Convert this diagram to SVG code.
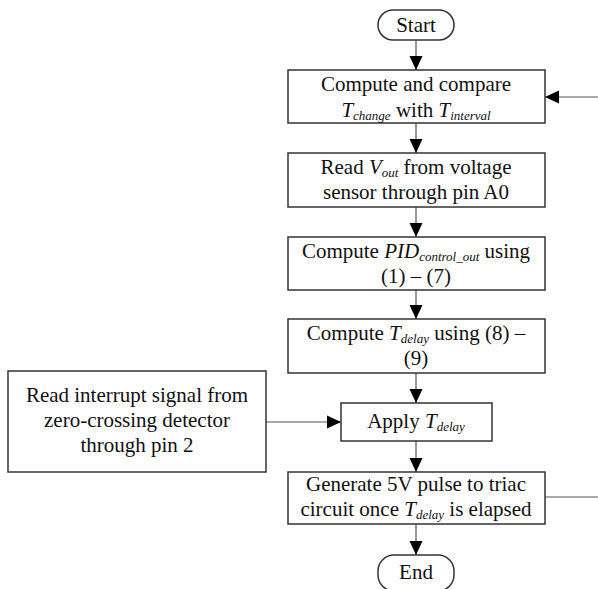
<svg xmlns="http://www.w3.org/2000/svg" width="598" height="589" viewBox="0 0 598 589">
<style>
.box{fill:#fff;stroke:#333;stroke-width:1.5}
.t{font-family:"Liberation Serif","Times New Roman",serif;font-size:21px;fill:#111;text-anchor:middle}
.i{font-style:italic}
.s{font-style:italic;font-size:13px}
.c{fill:none;stroke:#555;stroke-width:1.2}
</style>
<defs>
<marker id="ah" viewBox="0 0 14 14" refX="14" refY="7" markerWidth="14" markerHeight="14" markerUnits="userSpaceOnUse" orient="auto">
<path d="M0,0.5 L14,7 L0,13.5 Z" fill="#000"/>
</marker>
</defs>
<rect width="598" height="589" fill="#fff"/>
<g id="connectors">
<line class="c" x1="416" y1="40" x2="416" y2="70" marker-end="url(#ah)"/>
<line class="c" x1="416" y1="123" x2="416" y2="153" marker-end="url(#ah)"/>
<line class="c" x1="416" y1="207" x2="416" y2="237" marker-end="url(#ah)"/>
<line class="c" x1="416" y1="290" x2="416" y2="319" marker-end="url(#ah)"/>
<line class="c" x1="416" y1="373" x2="416" y2="403" marker-end="url(#ah)"/>
<line class="c" x1="416" y1="441" x2="416" y2="472" marker-end="url(#ah)"/>
<line class="c" x1="416" y1="524" x2="416" y2="555" marker-end="url(#ah)"/>
<line class="c" x1="266" y1="422" x2="341" y2="422" marker-end="url(#ah)"/>
<path class="c" d="M545,497 H605 V97 H545" marker-end="url(#ah)"/>
</g>
<g id="start">
<rect class="box" x="378" y="10" width="76" height="30" rx="15"/>
<text class="t" x="416" y="32">Start</text>
</g>
<g id="compare">
<rect class="box" x="288" y="70" width="257" height="53"/>
<text class="t" x="416" y="91">Compute and compare</text>
<text class="t" x="416" y="117"><tspan class="i">T</tspan><tspan class="s" dy="3">change</tspan><tspan dy="-3"> with </tspan><tspan class="i">T</tspan><tspan class="s" dy="3">interval</tspan></text>
</g>
<g id="read-vout">
<rect class="box" x="288" y="153" width="257" height="54"/>
<text class="t" x="416" y="174">Read <tspan class="i">V</tspan><tspan class="s" dy="3">out</tspan><tspan dy="-3"> from voltage</tspan></text>
<text class="t" x="416" y="199">sensor through pin A0</text>
</g>
<g id="pid">
<rect class="box" x="288" y="237" width="257" height="53"/>
<text class="t" x="416" y="258">Compute <tspan class="i">PID</tspan><tspan class="s" dy="3">control_out</tspan><tspan dy="-3"> using</tspan></text>
<text class="t" x="416" y="283">(1) – (7)</text>
</g>
<g id="tdelay">
<rect class="box" x="288" y="319" width="257" height="54"/>
<text class="t" x="416" y="340">Compute <tspan class="i">T</tspan><tspan class="s" dy="3">delay</tspan><tspan dy="-3"> using (8) –</tspan></text>
<text class="t" x="416" y="365">(9)</text>
</g>
<g id="interrupt">
<rect class="box" x="8" y="371" width="258" height="101"/>
<text class="t" x="137" y="402">Read interrupt signal from</text>
<text class="t" x="137" y="427">zero-crossing detector</text>
<text class="t" x="137" y="452">through pin 2</text>
</g>
<g id="apply">
<rect class="box" x="341" y="403" width="151" height="38"/>
<text class="t" x="416" y="428">Apply <tspan class="i">T</tspan><tspan class="s" dy="3">delay</tspan></text>
</g>
<g id="generate">
<rect class="box" x="288" y="472" width="257" height="52"/>
<text class="t" x="416" y="491">Generate 5V pulse to triac</text>
<text class="t" x="416" y="516">circuit once <tspan class="i">T</tspan><tspan class="s" dy="3">delay</tspan><tspan dy="-3"> is elapsed</tspan></text>
</g>
<g id="end">
<rect class="box" x="378" y="555" width="76" height="36" rx="16"/>
<text class="t" x="416" y="579">End</text>
</g>
</svg>
